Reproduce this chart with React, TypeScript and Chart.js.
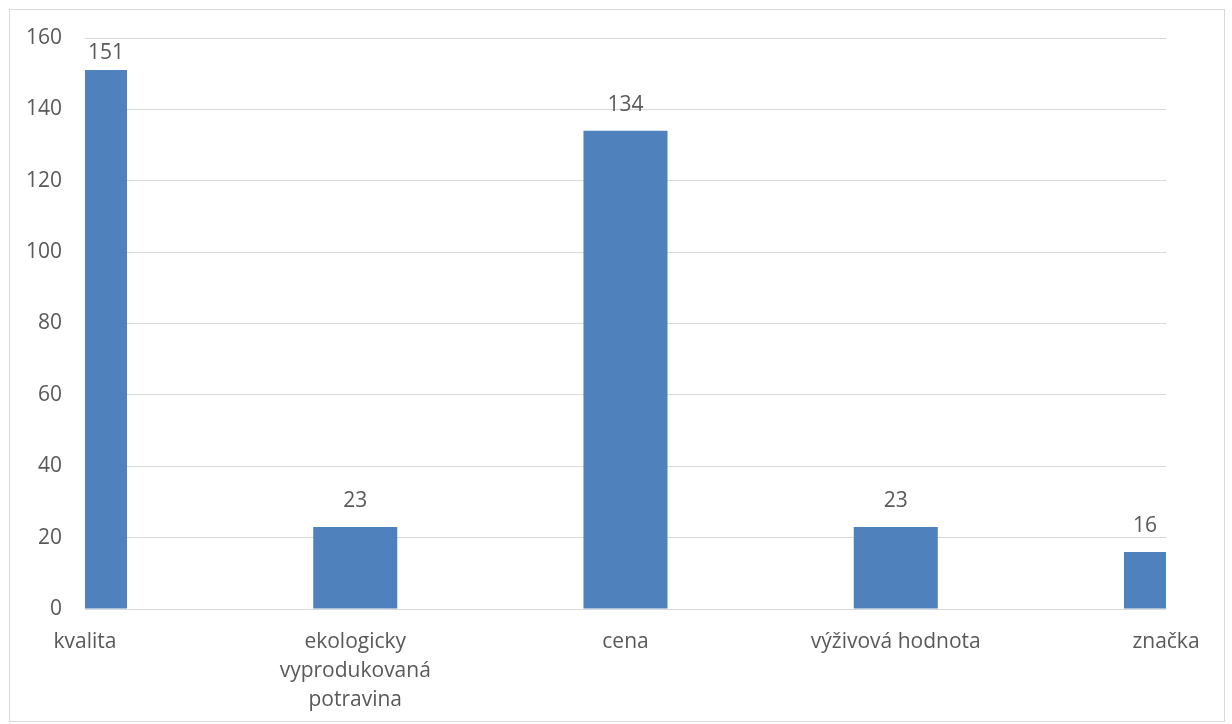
import React, { useEffect, useRef } from "react";
import { Chart, registerables } from "chart.js";

Chart.register(...registerables);

const categories: (string | string[])[] = [
  "kvalita",
  ["ekologicky", "vyprodukovaná", "potravina"],
  "cena",
  "výživová hodnota",
  "značka",
];
const counts = [151, 23, 134, 23, 16];
const yTicks = [0, 20, 40, 60, 80, 100, 120, 140, 160];

const TEXT = "#595959";
const FONT = "'Open Sans', 'Noto Sans', sans-serif";
const FONT_SIZE = 21;

// Draws each bar's value above the visible part of the bar.
const valueLabels = {
  id: "valueLabels",
  afterDatasetsDraw(chart: any) {
    const { ctx, chartArea } = chart;
    const meta = chart.getDatasetMeta(0);
    ctx.save();
    ctx.font = `${FONT_SIZE}px ${FONT}`;
    ctx.fillStyle = TEXT;
    ctx.textAlign = "center";
    ctx.textBaseline = "middle";
    meta.data.forEach((bar: any, i: number) => {
      const half = bar.width / 2;
      const left = Math.max(bar.x - half, chartArea.left);
      const right = Math.min(bar.x + half, chartArea.right);
      const y = Math.max(bar.y - 26, chartArea.top + 15);
      ctx.fillText(String(counts[i]), (left + right) / 2, y);
    });
    ctx.restore();
  },
};

export default function App() {
  const ref = useRef<HTMLCanvasElement>(null);

  useEffect(() => {
    if (!ref.current) return;
    const chart = new Chart(ref.current, {
      type: "bar",
      data: {
        labels: categories,
        datasets: [
          {
            data: counts,
            backgroundColor: "#4F81BD",
            borderWidth: 0,
            barPercentage: 1,
            categoryPercentage: 0.311,
            clip: 0,
          },
        ],
      },
      options: {
        animation: false,
        responsive: false,
        maintainAspectRatio: false,
        layout: { padding: { top: 28, right: 58, bottom: 0, left: 0 } },
        plugins: {
          legend: { display: false },
          tooltip: { enabled: false },
        },
        scales: {
          x: {
            type: "category",
            offset: false,
            grid: { display: false, drawTicks: false },
            border: { display: false },
            ticks: {
              autoSkip: false,
              maxRotation: 0,
              minRotation: 0,
              padding: 19,
              color: TEXT,
              font: { family: FONT, size: FONT_SIZE, lineHeight: 1.38 },
            },
            afterFit(scale: any) {
              scale.height = 112;
              scale.paddingLeft = 0;
              scale.paddingRight = 0;
            },
          },
          y: {
            min: 0,
            max: 160,
            afterBuildTicks(scale: any) {
              scale.ticks = yTicks.map((v) => ({ value: v }));
            },
            grid: { color: "#D9D9D9", lineWidth: 1, drawTicks: false },
            border: { display: false },
            ticks: {
              padding: 23,
              color: TEXT,
              font: { family: FONT, size: FONT_SIZE },
            },
            afterFit(scale: any) {
              scale.width = 75;
              scale.paddingTop = 0;
              scale.paddingBottom = 0;
            },
          },
        },
      },
      plugins: [valueLabels],
    });
    return () => chart.destroy();
  }, []);

  return (
    <div
      style={{
        position: "absolute",
        left: 9,
        top: 9,
        width: 1216,
        height: 713,
        boxSizing: "border-box",
        border: "1px solid #D9D9D9",
        background: "#fff",
      }}
    >
      <canvas ref={ref} width={1214} height={711} style={{ display: "block" }} />
    </div>
  );
}
